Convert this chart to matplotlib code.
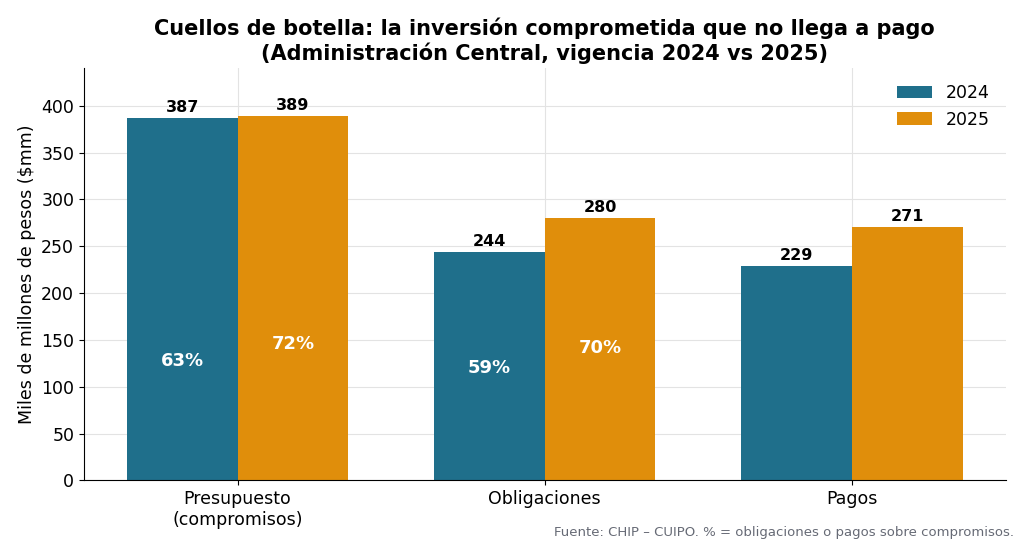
import matplotlib.pyplot as plt
import numpy as np

categories = ['Presupuesto\n(compromisos)', 'Obligaciones', 'Pagos']
v2024 = [387, 244, 229]
v2025 = [389, 280, 271]
pct_labels_2024 = ['63%', '59%', None]
pct_y_2024 = [128, 120, None]
pct_labels_2025 = ['72%', '70%', None]
pct_y_2025 = [146, 141, None]

c2024 = '#1f6f8b'
c2025 = '#e08e0b'

fig = plt.figure(figsize=(10.24, 5.46), dpi=100)
ax = fig.add_axes([0.082, 0.12, 0.9, 0.755])
x = np.arange(len(categories))
w = 0.36
ax.bar(x - w/2, v2024, w, color=c2024, label='2024', zorder=2)
ax.bar(x + w/2, v2025, w, color=c2025, label='2025', zorder=2)

for xi, v in zip(x - w/2, v2024):
    ax.text(xi, v + 3, f'{v}', ha='center', va='bottom', fontsize=11.5, fontweight='bold')
for xi, v in zip(x + w/2, v2025):
    ax.text(xi, v + 3, f'{v}', ha='center', va='bottom', fontsize=11.5, fontweight='bold')
for xi, lab, y in zip(x - w/2, pct_labels_2024, pct_y_2024):
    if lab:
        ax.text(xi, y, lab, ha='center', va='center', fontsize=13, fontweight='bold', color='white', zorder=3)
for xi, lab, y in zip(x + w/2, pct_labels_2025, pct_y_2025):
    if lab:
        ax.text(xi, y, lab, ha='center', va='center', fontsize=13, fontweight='bold', color='white', zorder=3)

ax.set_xticks(x)
ax.set_xticklabels(categories, fontsize=12.5)
ax.tick_params(axis='y', labelsize=12.5)
ax.set_ylim(0, 440)
ax.set_xlim(-0.5, 2.5)
ax.set_yticks(range(0, 401, 50))
ax.set_ylabel('Miles de millones de pesos ($mm)', fontsize=12.5)
ax.grid(True, color='#e3e3e3', linewidth=0.8, zorder=0)
ax.set_axisbelow(True)
for s in ['top', 'right']:
    ax.spines[s].set_visible(False)
ax.legend(fontsize=12.5, frameon=False, loc='upper right')
ax.set_title('Cuellos de botella: la inversión comprometida que no llega a pago\n(Administración Central, vigencia 2024 vs 2025)',
             fontsize=15, fontweight='bold', pad=6)
fig.text(0.99, 0.012, 'Fuente: CHIP – CUIPO. % = obligaciones o pagos sobre compromisos.',
         ha='right', va='bottom', fontsize=9.5, color='#666a75')
fig.savefig('out.png', dpi=100)
